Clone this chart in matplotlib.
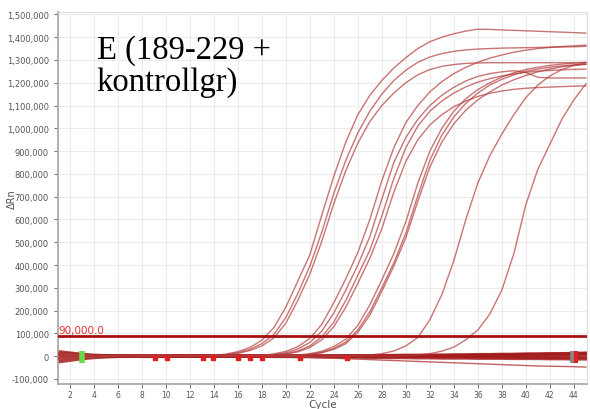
import numpy as np
import matplotlib
matplotlib.use("Agg")
import matplotlib.pyplot as plt
from matplotlib.ticker import FuncFormatter, MultipleLocator

# cycles 1..45, delta Rn in thousands
cycles = list(range(1, 46))

amp_curves = [
    # early group (Ct ~18-19)
    [14, 10, 6, 3, 1, 0, -1, -1, -1, 0, 0, 1, 2, 4, 9, 20, 38, 70, 125, 215, 330, 445, 620, 790, 940,
     1060, 1145, 1210, 1265, 1310, 1350, 1380, 1400, 1415, 1427, 1435, 1434, 1432, 1430, 1428, 1426,
     1424, 1422, 1420, 1418],
    [-12, -8, -5, -3, -2, -1, 0, 0, 0, 0, 1, 1, 1, 3, 7, 15, 30, 55, 95, 170, 275, 395, 545, 715, 860,
     980, 1075, 1150, 1210, 1255, 1290, 1313, 1328, 1338, 1344, 1348, 1350, 1352, 1353, 1354, 1355,
     1356, 1357, 1358, 1360],
    [6, 4, 2, 1, 0, 0, -1, -1, 0, 0, 0, 1, 1, 2, 5, 12, 25, 45, 80, 145, 245, 360, 505, 670, 815,
     935, 1030, 1100, 1155, 1200, 1235, 1258, 1272, 1280, 1285, 1287, 1288, 1288, 1288, 1288, 1288,
     1288, 1288, 1288, 1288],
    # middle group (Ct ~22-23.5)
    [-6, -4, -2, -1, 0, 0, 0, 0, 0, 0, 0, 0, 0, 0, 0, 1, 2, 4, 10, 21, 42, 78, 140, 235, 340, 455,
     600, 770, 915, 1025, 1100, 1160, 1205, 1240, 1268, 1290, 1308, 1322, 1334, 1343, 1350, 1355,
     1359, 1362, 1365],
    [10, 7, 4, 2, 1, 0, 0, 0, 0, 0, 0, 0, 0, 0, 0, 0, 1, 3, 7, 15, 32, 60, 110, 190, 290, 400, 525,
     690, 850, 960, 1040, 1100, 1145, 1180, 1208, 1228, 1240, 1248, 1253, 1245, 1224, 1221, 1221,
     1221, 1221],
    [-15, -10, -6, -3, -1, 0, 0, 0, 0, 0, 0, 0, 0, 0, 0, 0, 0, 2, 5, 11, 23, 45, 85, 150, 245, 355,
     465, 615, 780, 915, 1010, 1075, 1120, 1155, 1182, 1203, 1218, 1230, 1239, 1246, 1251, 1254,
     1257, 1259, 1260],
    [4, 3, 2, 1, 0, 0, 0, 0, 0, 0, 0, 0, 0, 0, 0, 0, 0, 1, 4, 9, 19, 38, 72, 130, 215, 320, 430,
     560, 720, 855, 950, 1015, 1060, 1095, 1120, 1140, 1154, 1164, 1171, 1176, 1179, 1181, 1183,
     1185, 1186],
    # later group (Ct ~25-26)
    [-8, -5, -3, -1, 0, 0, 0, 0, 0, 0, 0, 0, 0, 0, 0, 0, 0, 0, 0, 2, 5, 11, 22, 42, 75, 135, 225,
     335, 450, 590, 760, 900, 1000, 1075, 1130, 1170, 1200, 1225, 1244, 1258, 1268, 1276, 1282,
     1286, 1290],
    [16, 11, 6, 3, 1, 0, 0, 0, 0, 0, 0, 0, 0, 0, 0, 0, 0, 0, 0, 1, 3, 8, 17, 34, 62, 115, 195, 300,
     410, 540, 705, 860, 970, 1050, 1110, 1155, 1190, 1215, 1235, 1250, 1260, 1268, 1274, 1278, 1280],
    [2, 1, 1, 0, 0, 0, 0, 0, 0, 0, 0, 0, 0, 0, 0, 0, 0, 0, 0, 1, 3, 7, 15, 30, 55, 105, 180, 285,
     395, 520, 680, 830, 940, 1020, 1080, 1125, 1160, 1190, 1213, 1232, 1248, 1260, 1270, 1277, 1282],
    # late curves (Ct ~31 and ~35.5)
    [-10, -7, -4, -2, -1, 0, 0, 0, 0, 0, 0, 0, 0, 0, 0, 0, 0, 0, 0, 0, 0, 0, 0, 0, 0, 2, 5, 11, 23,
     45, 82, 160, 270, 420, 600, 760, 880, 975, 1060, 1135, 1190, 1230, 1258, 1276, 1288],
    [5, 3, 2, 1, 0, 0, 0, 0, 0, 0, 0, 0, 0, 0, 0, 0, 0, 0, 0, 0, 0, 0, 0, 0, 0, 0, 0, 0, 0, 2, 5,
     11, 22, 40, 72, 115, 185, 290, 450, 665, 820, 930, 1040, 1125, 1195],
]

# one negative well that slowly drifts below the band
drift_curve = [-18, -12, -7, -4, -2, -1, 0, 0, 0, 0, 0, 0, 0, 0, 0, 0, 0, -1, -2, -3, -4, -5, -7,
               -9, -11, -13, -15, -17, -19, -21, -23, -25, -27, -29, -31, -33, -35, -37, -39, -41,
               -43, -44, -45, -46, -48]

flat_curves = [
    [20, 14, 8, 4, 2, 1, 0, 0, 0, 0, 0, 0, 0, 0, 0, 0, 0, 0, 0, 0, 0, 0, 0, 1, 1, 2, 2, 3, 3, 4, 4,
     5, 5, 6, 6, 7, 7, 8, 8, 9, 9, 10, 10, 11, 12],
    [-25, -18, -11, -6, -3, -1, 0, 0, 0, 0, 0, 0, 0, 0, 0, 0, 0, 0, -1, -1, -2, -2, -3, -3, -4, -4,
     -5, -5, -6, -6, -7, -7, -8, -8, -8, -9, -9, -9, -10, -10, -10, -11, -11, -12, -12],
    [8, 6, 3, 1, 0, 0, 0, -1, -1, -1, 0, 0, 0, 0, 0, 0, 0, 0, 0, 0, 0, 0, 0, 0, 0, 0, 0, 0, 0, 0,
     0, 0, 1, 1, 2, 2, 3, 3, 4, 4, 5, 5, 6, 6, 7],
    [-5, -3, -2, -1, 0, 0, 0, 0, 0, 0, 0, 0, 0, 0, 0, 0, 0, 0, 0, 0, 0, 0, 0, 0, 0, 0, 0, 0, 0, 0,
     -1, -1, -2, -2, -3, -3, -4, -4, -5, -5, -5, -6, -6, -6, -6],
    [12, 9, 5, 2, 1, 0, 0, 0, 0, 0, 0, 0, 0, 0, 0, 0, 0, 0, 0, 0, 0, 0, 0, 0, 0, 0, 0, 0, 0, 0,
     0, 1, 1, 2, 3, 4, 5, 6, 7, 8, 9, 10, 11, 12, 13],
]

threshold = 90000
threshold_label = "90,000.0"
# baseline start/end flags sitting on the noise band
flag_cycles = [9.1, 10.1, 13.1, 13.9, 16.0, 17.0, 18.0, 21.2, 25.1]
start_cycle = 3.0
end_cycle = 43.9

fig = plt.figure(figsize=(5.9, 4.1), dpi=100)
ax = fig.add_axes([0.098, 0.061, 0.897, 0.907])

for vals in flat_curves:
    ax.plot(cycles, np.array(vals) * 1000, color="#a51c1c", lw=2.4, alpha=0.85, zorder=2)
ax.plot(cycles, np.array(drift_curve) * 1000, color="#b23a3a", lw=1.0, alpha=0.8, zorder=2)
for vals in amp_curves:
    ax.plot(cycles, np.array(vals) * 1000, color="#b23a3a", lw=1.0, alpha=0.7, zorder=3)

ax.axhline(threshold, color="#a80f0f", lw=2.0, zorder=4)
ax.text(1.05, threshold + 3000, threshold_label, color="#e03030", fontsize=7.5,
        ha="left", va="bottom", zorder=5)

ax.plot(flag_cycles, [-8000] * len(flag_cycles), ls="none", marker="s", ms=3.5,
        color="#e02020", zorder=5)
ax.plot([start_cycle], [-2000], ls="none", marker="|", ms=9, mew=4, color="#66dd44", zorder=6)
ax.plot([end_cycle], [-2000], ls="none", marker="|", ms=9, mew=4, color="#888888", zorder=6)
ax.plot([end_cycle + 0.25], [-4000], ls="none", marker="|", ms=8, mew=3, color="#e02020", zorder=6)

ax.set_xlim(1, 45.1)
ax.set_ylim(-122000, 1510000)
ax.set_xticks(range(2, 45, 2))
ax.yaxis.set_major_locator(MultipleLocator(100000))
ax.yaxis.set_major_formatter(FuncFormatter(lambda v, p: f"{int(round(v)):,}"))
ax.tick_params(labelsize=6, colors="#555555", length=3, width=0.6)
ax.tick_params(axis="x", pad=1, labelsize=5.5)
ax.grid(True, color="#ececec", lw=0.8, zorder=0)
ax.set_axisbelow(True)
for side in ("top", "right"):
    ax.spines[side].set_color("#dddddd")
for side in ("left", "bottom"):
    ax.spines[side].set_color("#aaaaaa")
    ax.spines[side].set_linewidth(1.3)

ax.set_xlabel("Cycle", fontsize=7.5, color="#555555")
ax.xaxis.set_label_coords(0.5, -0.041)
ax.set_ylabel("ΔRn", fontsize=7, color="#555555")
ax.yaxis.set_label_coords(-0.078, 0.5)

fig.text(0.164, 0.915, "E (189-229 +\nkontrollgr)", family="Liberation Serif",
         fontsize=23.5, linespacing=1.05, ha="left", va="top", color="black")

fig.savefig("out.png", dpi=100)
